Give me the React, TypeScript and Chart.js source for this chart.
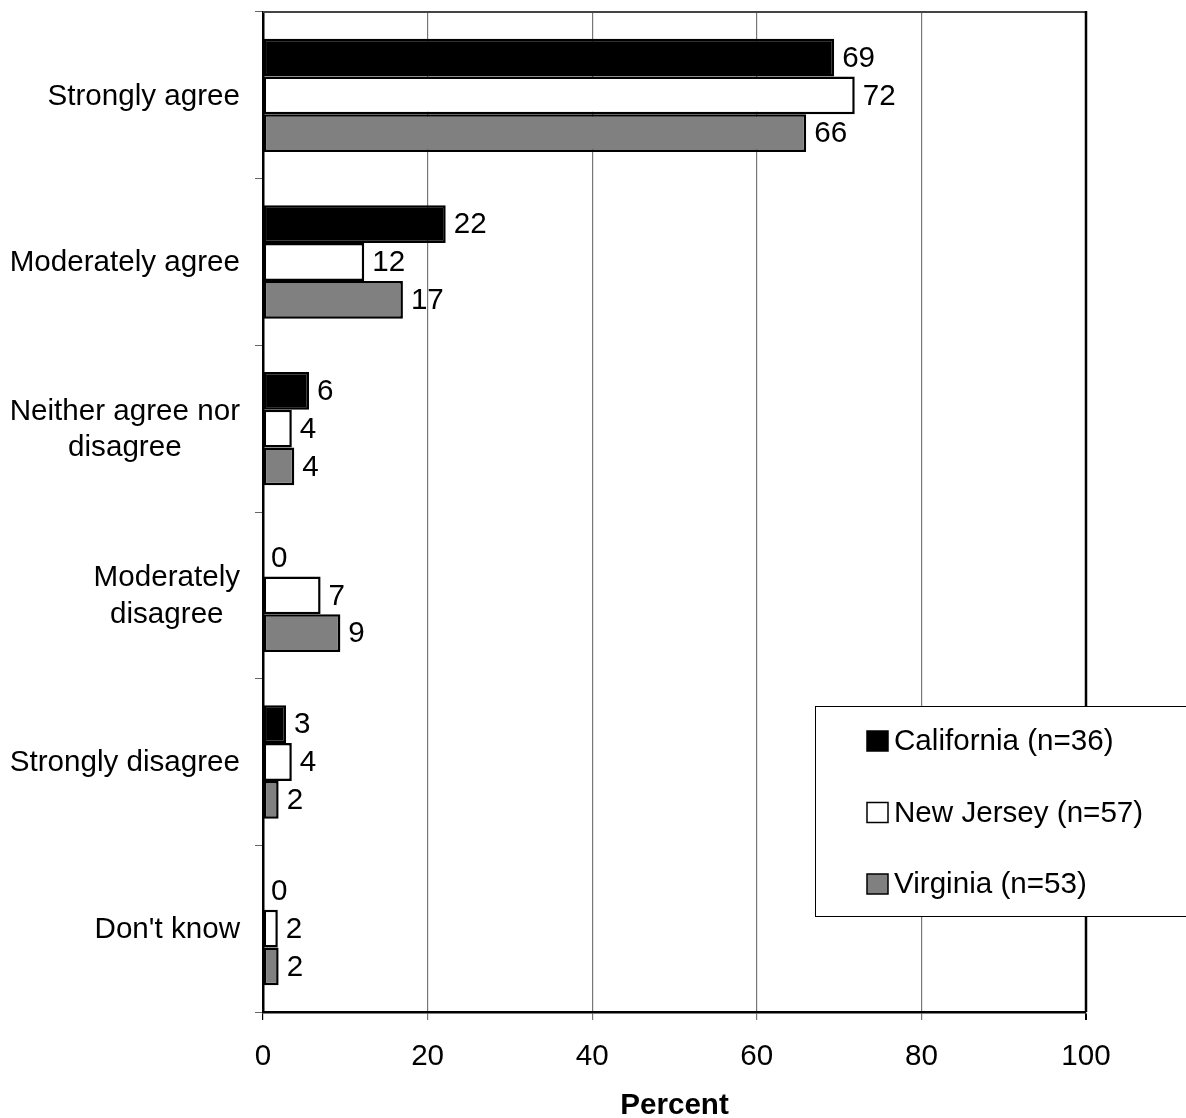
import React, { useEffect, useRef } from "react";
import { Chart, registerables } from "chart.js";

Chart.register(...registerables);

const categories: (string | string[])[] = [
  "Strongly agree",
  "Moderately agree",
  ["Neither agree nor", "disagree"],
  ["Moderately", "disagree"],
  "Strongly disagree",
  "Don't know",
];
const seriesNames = ["California (n=36)", "New Jersey (n=57)", "Virginia (n=53)"];
const california = [69.4, 22.2, 5.6, 0, 2.8, 0];
const newJersey = [71.9, 12.3, 3.5, 7.0, 3.5, 1.8];
const virginia = [66.0, 17.0, 3.8, 9.4, 1.9, 1.9];
const seriesColors = ["#000000", "#ffffff", "#808080"];
const xMin = 0;
const xMax = 100;
const xStep = 20;
const axisTitle = "Percent";

const FONT = '"Liberation Sans", Arial, Helvetica, sans-serif';
const FS = 29.6;

const valueLabelPlugin = {
  id: "valueLabels",
  afterDatasetsDraw(chart: any) {
    const ctx = chart.ctx;
    ctx.save();
    ctx.font = `${FS}px ${FONT}`;
    ctx.fillStyle = "#000";
    ctx.textAlign = "left";
    ctx.textBaseline = "middle";
    chart.data.datasets.forEach((ds: any, di: number) => {
      const meta = chart.getDatasetMeta(di);
      meta.data.forEach((el: any, i: number) => {
        const v = ds.data[i];
        ctx.fillText(String(Math.round(v)), el.x + 8, el.y + 1);
      });
    });
    ctx.restore();
  },
};

const framePlugin = {
  id: "frame",
  afterDatasetsDraw(chart: any) {
    const { ctx, chartArea } = chart;
    ctx.save();
    ctx.strokeStyle = "#444";
    ctx.lineWidth = 2;
    ctx.beginPath();
    ctx.moveTo(chartArea.left, chartArea.top);
    ctx.lineTo(chartArea.right, chartArea.top);
    ctx.stroke();
    ctx.strokeStyle = "#000";
    ctx.lineWidth = 2.5;
    ctx.beginPath();
    ctx.moveTo(chartArea.right, chartArea.top - 1);
    ctx.lineTo(chartArea.right, chartArea.bottom);
    ctx.stroke();
    ctx.restore();
  },
};

const categoryLabelPlugin = {
  id: "categoryLabels",
  afterDraw(chart: any) {
    const { ctx } = chart;
    const yScale = chart.scales.y;
    const right = chart.chartArea.left - 23;
    const lh = 36.5;
    ctx.save();
    ctx.font = `${FS}px ${FONT}`;
    ctx.fillStyle = "#000";
    ctx.textAlign = "center";
    ctx.textBaseline = "middle";
    categories.forEach((c, i) => {
      const lines = Array.isArray(c) ? c : [c];
      const w = Math.max(...lines.map((l) => ctx.measureText(l).width));
      const cx = right - w / 2;
      const y = yScale.getPixelForValue(i);
      const startY = y - ((lines.length - 1) * lh) / 2;
      lines.forEach((l, j) => ctx.fillText(l, cx, startY + j * lh + 1));
    });
    ctx.restore();
  },
};

const legendPlugin = {
  id: "customLegend",
  afterDatasetsDraw(chart: any) {
    const { ctx } = chart;
    ctx.save();
    const bx = 815.5;
    const by = 706.5;
    const bw = 400;
    const bh = 210;
    ctx.fillStyle = "#fff";
    ctx.fillRect(bx, by, bw, bh);
    ctx.strokeStyle = "#000";
    ctx.lineWidth = 1;
    ctx.strokeRect(bx, by, bw, bh);
    const rows = [741, 812.5, 884];
    ctx.font = `${FS}px ${FONT}`;
    ctx.textAlign = "left";
    ctx.textBaseline = "middle";
    seriesNames.forEach((name, i) => {
      const y = rows[i];
      ctx.fillStyle = seriesColors[i];
      ctx.fillRect(867, y - 10, 21, 20);
      ctx.strokeStyle = "#000";
      ctx.lineWidth = 1.5;
      ctx.strokeRect(867, y - 10, 21, 20);
      ctx.fillStyle = "#000";
      ctx.fillText(name, 894, y + 1);
    });
    ctx.restore();
  },
};

export default function App() {
  const ref = useRef<HTMLCanvasElement | null>(null);
  useEffect(() => {
    if (!ref.current) return;
    const labels = categories.map((c) => (Array.isArray(c) ? c.join(" ") : c));
    const chart = new Chart(ref.current, {
      type: "bar",
      data: {
        labels,
        datasets: [california, newJersey, virginia].map((d, i) => ({
          label: seriesNames[i],
          data: d,
          backgroundColor: seriesColors[i],
          borderColor: "#000",
          borderWidth: 2.5,
          borderSkipped: false,
          categoryPercentage: 0.68,
          barPercentage: 1,
        })),
      },
      options: {
        indexAxis: "y",
        responsive: false,
        animation: false,
        devicePixelRatio: 1,
        layout: { padding: { top: 12, right: 100, bottom: 0, left: 0 } },
        plugins: {
          legend: { display: false },
          tooltip: { enabled: false },
        },
        scales: {
          x: {
            type: "linear",
            min: xMin,
            max: xMax,
            ticks: {
              stepSize: xStep,
              color: "#000",
              font: { family: FONT, size: FS },
              padding: 19,
            },
            grid: {
              color: (c: any) => (c.tick && (c.tick.value === xMax || c.tick.value === xMin) ? "#000" : "#777"),
              lineWidth: (c: any) => (c.tick && c.tick.value === xMax ? 2 : 1.2),
              tickColor: (c: any) => (c.tick && (c.tick.value === xMax || c.tick.value === xMin) ? "#000" : "#777"),
              tickLength: 8,
            },
            border: { color: "#000", width: 2.5 },
            title: {
              display: true,
              text: axisTitle,
              color: "#000",
              font: { family: FONT, size: FS, weight: "bold", lineHeight: 0.85 },
              padding: 0,
            },
            afterFit: (s: any) => {
              s.height = 106;
            },
          },
          y: {
            type: "category",
            offset: true,
            ticks: { display: false },
            grid: {
              offset: true,
              drawOnChartArea: false,
              color: "#666",
              tickLength: 8,
            },
            border: { color: "#000", width: 2.5 },
            afterFit: (s: any) => {
              s.width = 263;
            },
          },
        },
      } as any,
      plugins: [framePlugin, legendPlugin, valueLabelPlugin, categoryLabelPlugin],
    });
    return () => chart.destroy();
  }, []);
  return (
    <canvas
      ref={ref}
      width={1186}
      height={1118}
      style={{ position: "absolute", left: 0, top: 0, display: "block", background: "#fff" }}
    />
  );
}
